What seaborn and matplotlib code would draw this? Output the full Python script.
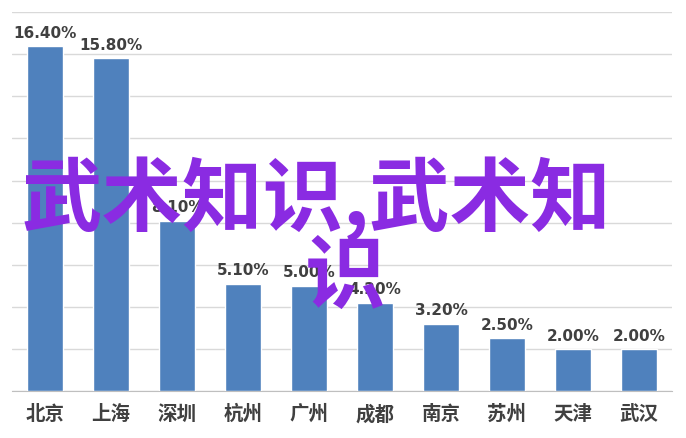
import matplotlib
matplotlib.use('Agg')
import matplotlib.pyplot as plt
import seaborn as sns
import pandas as pd
import numpy as np

cities = ['北京', '上海', '深圳', '杭州', '广州', '成都', '南京', '苏州', '天津', '武汉']
shares = [16.4, 15.8, 8.1, 5.1, 5.0, 4.2, 3.2, 2.5, 2.0, 2.0]
watermark_line1 = '武术知识,武术知'
watermark_line2 = '识'

sns.set_style('white')
plt.rcParams['font.family'] = ['Noto Sans CJK SC', 'DejaVu Sans']

df = pd.DataFrame({'city': cities, 'share': shares})

fig = plt.figure(figsize=(6.86, 4.39), dpi=100)
ax = fig.add_axes([0.0175, 0.107, 0.962, 0.863])

sns.barplot(data=df, x='city', y='share', color='#4f81bd', saturation=1,
            width=0.55, ax=ax, zorder=3)

ax.set_ylim(0, 18)
ax.set_xlim(-0.5, len(cities) - 0.5)
ax.set_yticks(np.arange(0, 19, 2))
ax.set_yticklabels([])
ax.tick_params(axis='y', length=0)
ax.yaxis.grid(True, color='#d9d9d9', linewidth=1, zorder=0)
ax.set_xlabel('')
ax.set_ylabel('')

for side in ['left', 'right', 'top']:
    ax.spines[side].set_visible(False)
ax.spines['bottom'].set_color('#bfbfbf')

# ticks between categories
ax.set_xticks(np.arange(-0.5, len(cities), 1), minor=True)
ax.tick_params(axis='x', which='minor', length=6, color='#bfbfbf', direction='out')
ax.tick_params(axis='x', which='major', length=0, pad=9)
for lbl in ax.get_xticklabels():
    lbl.set_fontsize(14)
    lbl.set_fontweight('bold')
    lbl.set_color('#404040')

for i, v in enumerate(shares):
    ax.text(i, v + 0.3, '%.2f%%' % v, ha='center', va='bottom',
            fontsize=11, fontweight='bold', color='#404040',
            family='DejaVu Sans', zorder=4)

# watermark text
fig.text(22 / 686, 1 - 226 / 439, watermark_line1, ha='left', va='baseline',
         fontsize=58, fontweight='bold', color='#8a2be2', zorder=10)
fig.text(345 / 686, 1 - 302 / 439, watermark_line2, ha='center', va='baseline',
         fontsize=58, fontweight='bold', color='#8a2be2', zorder=10)

fig.savefig('out.png', dpi=100)
